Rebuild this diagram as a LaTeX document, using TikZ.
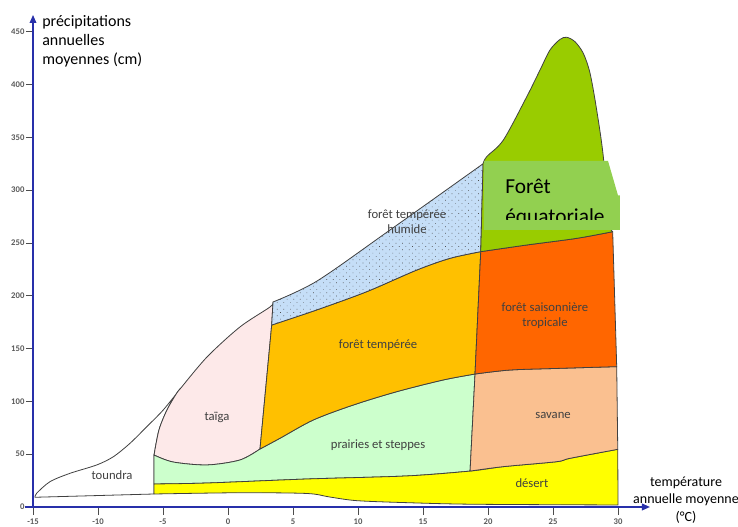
\documentclass[tikz,border=0pt]{standalone}
\usepackage{fontspec}
\setmainfont{Carlito}
\usepackage{tikz}
\usetikzlibrary{arrows.meta,patterns.meta}
\definecolor{axisblue}{RGB}{40,48,170}
\definecolor{taigapink}{RGB}{253,233,233}
\definecolor{temperate}{RGB}{255,192,0}
\definecolor{prairie}{RGB}{204,255,204}
\definecolor{humidblue}{RGB}{197,222,247}
\definecolor{equatorial}{RGB}{153,204,0}
\definecolor{labelgreen}{RGB}{146,208,80}
\definecolor{seasonal}{RGB}{255,102,0}
\definecolor{savanna}{RGB}{250,192,144}
\definecolor{desert}{RGB}{255,255,0}
\tikzset{
  biome/.style={draw=black!75,line width=.6pt,line join=round},
  biomelabel/.style={font=\fontsize{9.5}{11}\selectfont,text=black!75,align=center,
                     inner sep=0pt},
  eqlabel/.style={font=\fontsize{16}{19}\selectfont,text=black,inner sep=0pt},
  axistitle/.style={text=black,inner sep=0pt},
  axisline/.style={draw=axisblue,line width=1pt,-{Triangle[length=6pt,width=5pt]}},
  tickmark/.style={draw=black!70,line width=.7pt},
  ticklabel/.style={font=\fontsize{6.5}{7}\selectfont\bfseries,text=black!65,inner sep=1pt},
}
\begin{document}
\begin{tikzpicture}[x=9.75pt,y=0.792pt]
  \useasboundingbox (-17.54,-18.94) rectangle (39.23,480.1);
  % toundra and taiga
  \draw[biome,fill=white] (-14.85,9.2) -- (-5.69,12.3) -- (-5.69,49.2)
    -- plot[smooth] coordinates {(-5.69,49.2) (-5.31,73) (-4.69,92) (-3.95,107.7) (-3.62,112.7)}
    -- plot[smooth] coordinates {(-3.62,112.7) (-4.98,91.9) (-6.25,76) (-7.54,60.3) (-8.82,47.6)
       (-10.1,39.8) (-12.15,31.9) (-13.69,24) (-14.72,13) (-14.85,9.2)} -- cycle;
  \draw[biome,fill=taigapink]
    plot[smooth] coordinates {(-5.69,49.2) (-5.31,73) (-4.69,92) (-3.95,107.7) (-3.62,112.7)}
    -- plot[smooth] coordinates {(-3.62,112.7) (-1.62,142) (0.92,170.5) (3.23,189.4) (3.46,194.1)}
    -- (3.36,172.3) -- (2.46,54.9)
    -- plot[smooth] coordinates {(2.46,54.9) (0.92,44.5) (-1.62,39.8) (-4.23,42.6) (-5.69,49.2)}
    -- cycle;
  % prairies and desert
  \draw[biome,fill=prairie] (-5.69,21.8) -- (-5.69,49.2)
    -- plot[smooth] coordinates {(-5.69,49.2) (-4.23,42.6) (-1.62,39.8) (0.92,44.5) (2.46,54.9)}
    -- plot[smooth] coordinates {(2.46,54.9) (4,65.1) (6.56,82.4) (9.64,96.6) (12.98,109.2)
       (16.56,120.3) (19,125.9)}
    -- (18.62,34)
    -- plot[smooth] coordinates {(18.62,34) (13.75,29.4) (6.05,26.5) (-1.62,22.7) (-5.69,21.8)}
    -- cycle;
  \draw[biome,fill=desert] (-5.69,12.3) -- (-5.69,21.8)
    -- plot[smooth] coordinates {(-5.69,21.8) (-1.62,22.7) (6.05,26.5) (13.75,29.4) (18.62,34)
       (21.18,38.2) (25.28,42.9) (26.31,46.1) (29.98,54.6)}
    -- (30,1.9)
    -- plot[smooth] coordinates {(30,1.9) (18.87,2.6) (13.75,4.1) (9.9,6) (7.8,9.5) (6.05,12.8)
       (0.92,13.5) (-5.69,12.3)}
    -- cycle;
  % temperate forests
  \draw[biome,fill=temperate] (3.36,172.3)
    -- plot[smooth] coordinates {(3.36,172.3) (6.82,186.6) (10.67,203.9) (14.52,224.4)
       (17.08,235.5) (19.44,241.8)}
    -- (19,125.9)
    -- plot[smooth] coordinates {(19,125.9) (16.56,120.3) (12.98,109.2) (9.64,96.6) (6.56,82.4)
       (4,65.1) (2.46,54.9)}
    -- cycle;
  \draw[biome,preaction={fill=humidblue},
        pattern={Dots[distance=3.5pt,angle=45,radius=.35pt]},pattern color=black!70]
    (3.36,172.3) -- (3.46,194.1)
    -- plot[smooth] coordinates {(3.46,194.1) (6.85,214) (12.46,262.3) (19.62,325)}
    -- (19.44,241.8)
    -- plot[smooth] coordinates {(19.44,241.8) (17.08,235.5) (14.52,224.4) (10.67,203.9)
       (6.82,186.6) (3.36,172.3)}
    -- cycle;
  % tropical belt
  \draw[biome,fill=savanna] (19,125.9)
    -- plot[smooth] coordinates {(19,125.9) (21.69,129.7) (25.54,131.3) (29.9,132.9)}
    -- (29.98,54.6)
    -- plot[smooth] coordinates {(29.98,54.6) (26.31,46.1) (25.28,42.9) (21.18,38.2) (18.62,34)}
    -- cycle;
  \draw[biome,fill=seasonal] (19.44,241.8)
    -- plot[smooth] coordinates {(19.44,241.8) (22.98,248.1) (26.82,254.4) (29.59,260.7)}
    -- (29.9,132.9)
    -- plot[smooth] coordinates {(29.9,132.9) (25.54,131.3) (21.69,129.7) (19,125.9)}
    -- cycle;
  \draw[biome,fill=equatorial] (19.44,241.8) -- (19.62,325)
    -- plot[smooth] coordinates {(19.62,325) (19.9,331.8) (21.18,347.5) (22.98,388.5) (24,413.8)
       (24.77,432.8) (25.54,442.8) (26.05,444.8) (26.69,440.6) (27.33,429.6) (27.85,410.7)
       (28.36,375.9) (28.87,331.7) (29.26,271.8) (29.59,260.7)}
    -- plot[smooth] coordinates {(29.59,260.7) (26.82,254.4) (22.98,248.1) (19.44,241.8)}
    -- cycle;
  % the pasted label box, its text cut at the bottom
  \fill[labelgreen] (19.69,327.7) -- (29.23,327.7) -- (29.6,312) -- (30,295) -- (30.15,295)
    -- (30.15,262.3) -- (19.69,262.3) -- cycle;
  \begin{scope}
    \clip (19.69,327.7) rectangle (30.15,272.2);
    \node[eqlabel,anchor=base west] (foret) at (21.31,297.3) {Forêt};
    \node[eqlabel,anchor=base west] (equat) at (21.31,268.9) {équatoriale};
  \end{scope}
  % biome names
  \node[biomelabel] (toundra) at (-8.92,30.3) {toundra};
  \node[biomelabel] (taiga) at (-0.85,85.2) {taïga};
  \node[biomelabel] (humide) at (13.77,270.4) {forêt tempérée\\humide};
  \node[biomelabel] (tempere) at (11.54,153.4) {forêt tempérée};
  \node[biomelabel] (prairies) at (11.54,58.7) {prairies et steppes};
  \node[biomelabel] (saison) at (24.38,181.3) {forêt saisonnière\\tropicale};
  \node[biomelabel] (savane) at (25,86.2) {savane};
  \node[biomelabel] (desert) at (23.38,22.7) {désert};
  % axes
  \foreach \p [count=\i] in {0,50,...,450}{
    \draw[tickmark] (-15.54,\p) -- (-15,\p);
    \node[ticklabel,anchor=east] (ylab\i) at (-15.54,\p) {\p};}
  \foreach \t [count=\i] in {-15,-10,...,30}{
    \draw[tickmark] (\t,0) -- (\t,-7.6);
    \node[ticklabel] (xlab\i) at (\t,-14) {\t};}
  \draw[axisline] (-15.6,0) -- (32.46,0);
  \draw[axisline] (-15,0) -- (-15,465.9);
  \node[axistitle,anchor=north west,align=left,font=\fontsize{12}{14.25}\selectfont]
    (ptitle) at (-14.31,465.9) {précipitations\\annuelles\\moyennes (cm)};
  \node[axistitle,align=center,font=\fontsize{10.5}{13}\selectfont]
    (ttitle) at (35.23,6.6) {température\\annuelle moyenne\\(°C)};
\end{tikzpicture}
\end{document}
